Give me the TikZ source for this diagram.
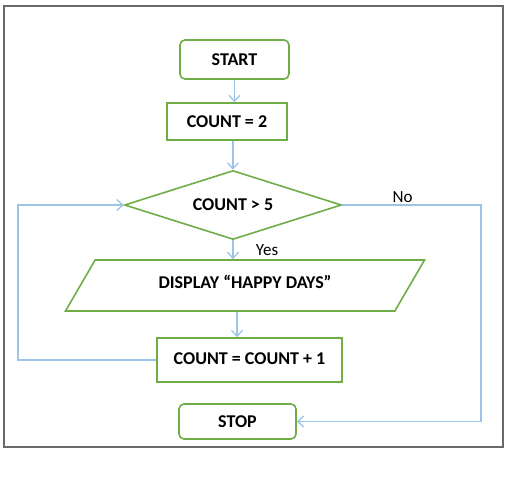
\documentclass[tikz,border=0pt]{standalone}
\usepackage{fontspec}
\setmainfont{Carlito}
\usetikzlibrary{positioning}
\usetikzlibrary{arrows.meta}
\usetikzlibrary{shapes.geometric}
\definecolor{g1}{RGB}{112,173,71}
\definecolor{l1}{RGB}{157,195,230}
\definecolor{fr1}{RGB}{105,105,105}

\begin{document}
\begin{tikzpicture}[
    x=1pt, y=-1pt,
    font=\fontsize{18}{21}\selectfont\bfseries,
    a/.style={
        line width=1.3pt,
        color=l1,
    },
    l/.style={
        a,-{Straight Barb[length=6pt,width=11pt,line width=1.3pt]}
    },
    s/.style={
        draw=g1, line width=1.6pt, fill=white,
        inner sep=0pt
    },
    m/.style={
        s, rounded corners=5pt
    },
    d/.style={
        s, diamond, aspect=3.14, minimum width=217, minimum height=69
    },
    p/.style={
        s, trapezium, trapezium left angle=35.7, trapezium right angle=144.3,
        trapezium stretches body, minimum width=359, minimum height=51
    },
    e/.style={
        color=black, font=\fontsize{17}{20}\selectfont
    }
]
    \useasboundingbox (0,0) rectangle (516,478);
    \draw [fr1, line width=1.5pt] (4,6) rectangle (503,447);

    \node [m, minimum width=109, minimum height=39] (start) at (234.5, 59.5) {START};
    \node [s, minimum width=120, minimum height=37] (init)  at (227  ,121.5) {COUNT = 2};
    \node [d] (test) at (233,205) {COUNT > 5};
    \node [p] (show) at (245,285.5) {\raisebox{8pt}{DISPLAY “HAPPY DAYS”}};
    \node [s, minimum width=185, minimum height=44] (incr) at (249.5,360) {\raisebox{3pt}{COUNT = COUNT + 1}};
    \node [m, minimum width=117, minimum height=35] (stop) at (237.5,421.5) {STOP};

    \coordinate (lp) at ( 18,0);
    \coordinate (rp) at (481,0);

    \draw (start) -- (start |- init.north) [l];
    \draw (test.north |- init.south) -- (test.north) [l];
    \draw (test.south) -- (test.south |- show.north) [l] node [e,at end,anchor=west,xshift=19pt,yshift=9pt] {Yes};
    \draw ([xshift=-8pt]show.south) -- ([xshift=-8pt]show.south |- incr.north) [l];
    \draw (incr.west) -- (incr.west -| lp) |- (test.west) [l];
    \draw (test.east) -- (test.east -| rp) node [e,midway,above,xshift=-9pt,yshift=-1pt] {No} |- (stop.east) [l];

\end{tikzpicture}
\end{document}
